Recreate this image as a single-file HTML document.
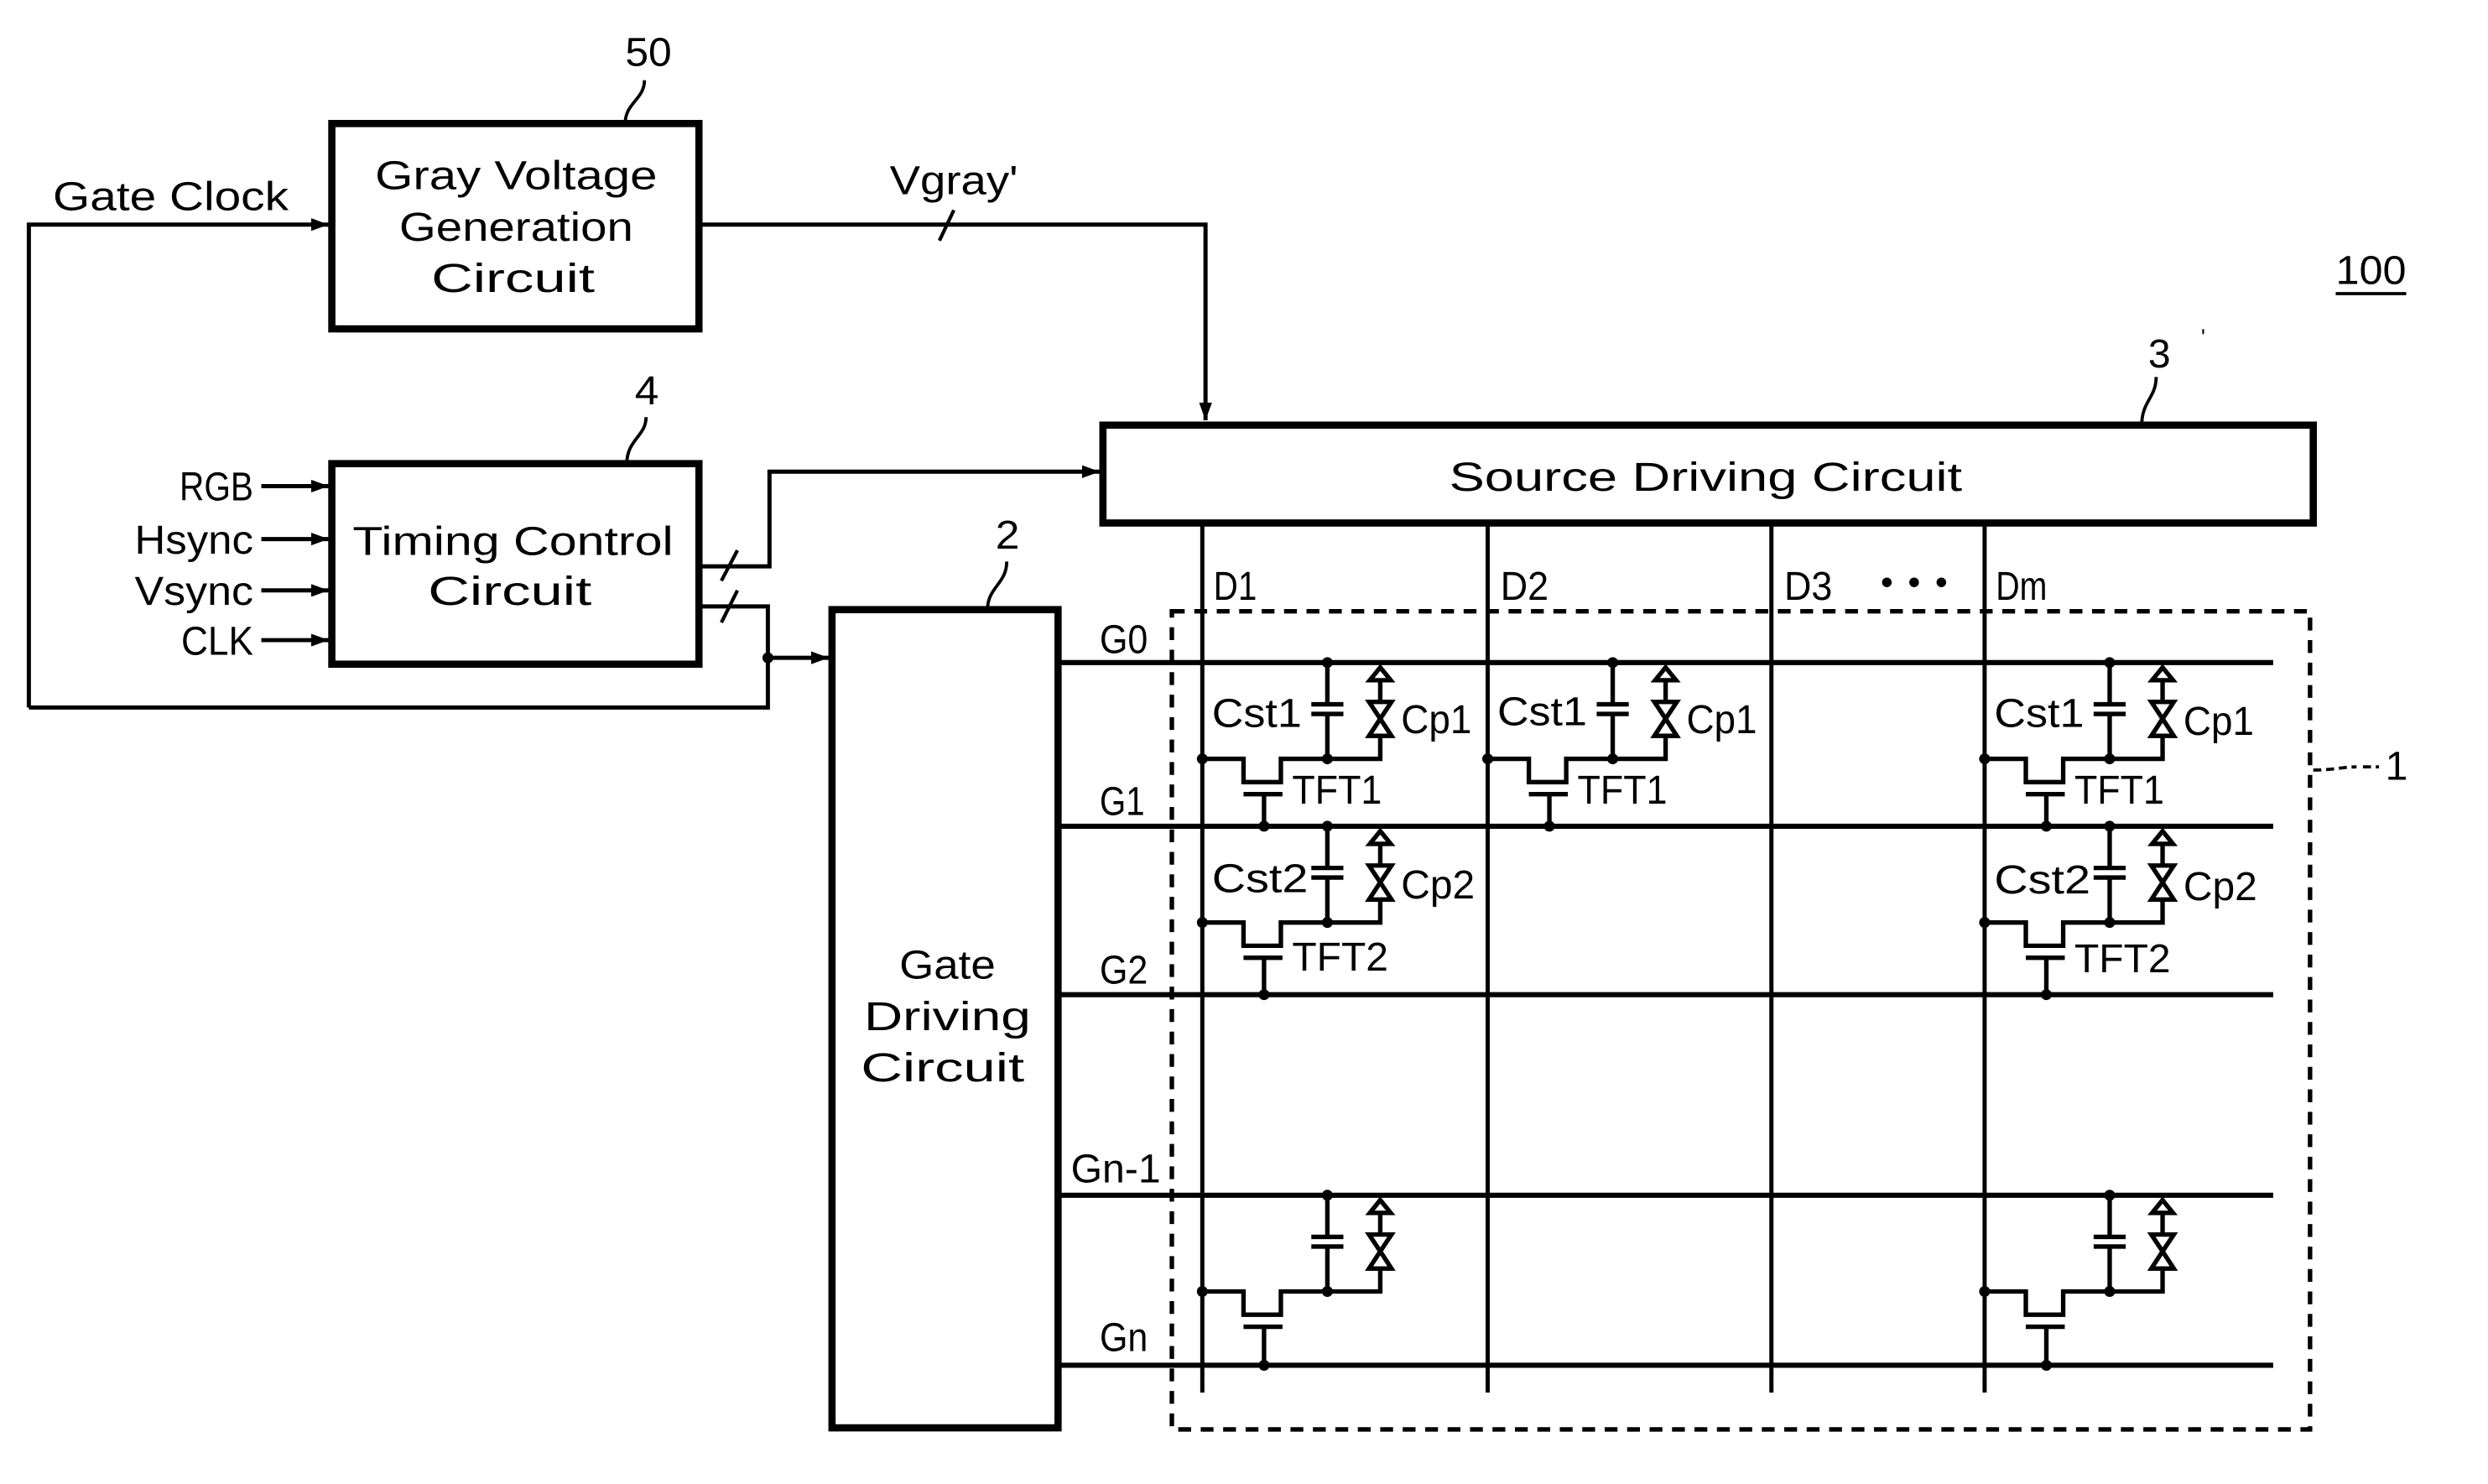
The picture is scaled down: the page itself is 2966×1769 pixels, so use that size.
<!DOCTYPE html>
<html><head><meta charset="utf-8"><style>
html,body{margin:0;padding:0;background:#fff;}
svg{display:block;}
text{font-family:"Liberation Sans",sans-serif;fill:#000;}
</style></head><body>
<svg width="2966" height="1769" viewBox="0 0 1552 925" preserveAspectRatio="none" xmlns="http://www.w3.org/2000/svg">
<defs>
<marker id="ar" markerWidth="11" markerHeight="8" refX="11" refY="4" orient="auto" markerUnits="userSpaceOnUse"><path d="M0,0 L11,4 L0,8 z" fill="#000"/></marker>
<g id="cell" stroke="#000" stroke-width="2.8" fill="none">
<path d="M78,0 V26 M68,26 H88 M68,32 H88 M78,32 V60"/>
<path d="M0,60 H25.7 V74.5 H49 V60 H111 V46"/>
<path d="M111,11 V24.5"/>
<polygon points="111,3 104.5,11 117.5,11" fill="#fff"/>
<polygon points="104,24.5 118,24.5 111,35" fill="#fff"/>
<polygon points="111,35 104,45.7 118,45.7" fill="#fff"/>
<path d="M25.7,82 H50"/>
<circle cx="78" cy="0" r="3.4" fill="#000" stroke="none"/>
<circle cx="78" cy="60" r="3.4" fill="#000" stroke="none"/>
<circle cx="0" cy="60" r="3.4" fill="#000" stroke="none"/>
</g>
</defs>

<g stroke="#000" fill="none">
<rect x="207" y="77" width="229" height="128" stroke-width="4.5"/>
<rect x="207" y="289" width="229" height="125" stroke-width="4.5"/>
<rect x="519" y="380" width="141" height="510" stroke-width="4.5"/>
<rect x="688" y="265" width="755" height="61" stroke-width="4.5"/>

<path d="M18,441 V140 H205" stroke-width="2.6" marker-end="url(#ar)"/>
<path d="M18,441 H479 V378 H436" stroke-width="2.6"/>
<path d="M479,410 H517" stroke-width="2.6" marker-end="url(#ar)"/>
<circle cx="479" cy="410" r="3.4" fill="#000" stroke="none"/>
<path d="M450,388 L460,368" stroke-width="2.2"/>
<path d="M436,353 H480 V294 H686" stroke-width="2.6" marker-end="url(#ar)"/>
<path d="M450,362 L460,343" stroke-width="2.2"/>
<path d="M436,140 H752 V262" stroke-width="2.6" marker-end="url(#ar)"/>
<path d="M586,150 L595,131" stroke-width="2.2"/>
<path d="M163,303 H205" stroke-width="2.6" marker-end="url(#ar)"/>
<path d="M163,336 H205" stroke-width="2.6" marker-end="url(#ar)"/>
<path d="M163,368 H205" stroke-width="2.6" marker-end="url(#ar)"/>
<path d="M163,399 H205" stroke-width="2.6" marker-end="url(#ar)"/>

<path d="M402,50 C402,62 390,64 390,77" stroke-width="2"/>
<path d="M403,260 C403,272 391,274 391,289" stroke-width="2"/>
<path d="M628,350 C628,364 616,366 616,380" stroke-width="2"/>
<path d="M1345,235 C1345,248 1336,250 1336,265" stroke-width="2"/>
<path d="M1443,480 C1455,480 1462,478 1470,478 M1474,478 H1484" stroke-width="2" stroke-dasharray="5,3"/>

<path d="M750,326 V868 M928,326 V868 M1105,326 V868 M1238,326 V868" stroke-width="2.6"/>
<path d="M660,413 H1418 M660,515 H1418 M660,620 H1418 M660,745 H1418 M660,851 H1418" stroke-width="3.2"/>
<rect x="731" y="381" width="710" height="510" stroke-width="2.8" stroke-dasharray="8,6"/>

<path d="M788.5,495 V515 M966.5,495 V515 M1276.5,495 V515 M788.5,597 V620 M1276.5,597 V620 M788.5,827 V851 M1276.5,827 V851" stroke-width="2.8"/>
<g fill="#000" stroke="none">
<circle cx="788.5" cy="515" r="3.4"/><circle cx="966.5" cy="515" r="3.4"/><circle cx="1276.5" cy="515" r="3.4"/>
<circle cx="788.5" cy="620" r="3.4"/><circle cx="1276.5" cy="620" r="3.4"/>
<circle cx="788.5" cy="851" r="3.4"/><circle cx="1276.5" cy="851" r="3.4"/>
</g>
<path d="M1457,183 H1501" stroke-width="2"/>
</g>

<use href="#cell" transform="translate(750,413)"/>
<use href="#cell" transform="translate(928,413)"/>
<use href="#cell" transform="translate(1238,413)"/>
<use href="#cell" transform="translate(750,515)"/>
<use href="#cell" transform="translate(1238,515)"/>
<use href="#cell" transform="translate(750,745)"/>
<use href="#cell" transform="translate(1238,745)"/>

<g font-size="25">
<text x="322" y="118" text-anchor="middle" textLength="176" lengthAdjust="spacingAndGlyphs">Gray Voltage</text>
<text x="322" y="150" text-anchor="middle" textLength="146" lengthAdjust="spacingAndGlyphs">Generation</text>
<text x="320" y="182" text-anchor="middle" textLength="102" lengthAdjust="spacingAndGlyphs">Circuit</text>
<text x="320" y="346" text-anchor="middle" textLength="200" lengthAdjust="spacingAndGlyphs">Timing Control</text>
<text x="318" y="377" text-anchor="middle" textLength="102" lengthAdjust="spacingAndGlyphs">Circuit</text>
<text x="591" y="610" text-anchor="middle" textLength="60" lengthAdjust="spacingAndGlyphs">Gate</text>
<text x="591" y="642" text-anchor="middle" textLength="104" lengthAdjust="spacingAndGlyphs">Driving</text>
<text x="588" y="674" text-anchor="middle" textLength="102" lengthAdjust="spacingAndGlyphs">Circuit</text>
<text x="1064" y="306" text-anchor="middle" textLength="320" lengthAdjust="spacingAndGlyphs">Source Driving Circuit</text>
<text x="33" y="131" textLength="147" lengthAdjust="spacingAndGlyphs">Gate Clock</text>
<text x="555" y="121" textLength="80" lengthAdjust="spacingAndGlyphs">Vgray'</text>
<text x="390" y="41" textLength="29" lengthAdjust="spacingAndGlyphs">50</text>
<text x="396" y="252" textLength="15" lengthAdjust="spacingAndGlyphs">4</text>
<text x="621" y="342" textLength="15" lengthAdjust="spacingAndGlyphs">2</text>
<text x="1340" y="229" textLength="14" lengthAdjust="spacingAndGlyphs">3</text>
<text x="1373" y="215" font-size="14">'</text>
<text x="1457" y="177" textLength="44" lengthAdjust="spacingAndGlyphs">100</text>
<text x="1488" y="486" textLength="14" lengthAdjust="spacingAndGlyphs">1</text>
<text x="158" y="312" text-anchor="end" textLength="46" lengthAdjust="spacingAndGlyphs">RGB</text>
<text x="158" y="345" text-anchor="end" textLength="74" lengthAdjust="spacingAndGlyphs">Hsync</text>
<text x="158" y="377" text-anchor="end" textLength="74" lengthAdjust="spacingAndGlyphs">Vsync</text>
<text x="158" y="408" text-anchor="end" textLength="45" lengthAdjust="spacingAndGlyphs">CLK</text>
<text x="757" y="374" textLength="27" lengthAdjust="spacingAndGlyphs">D1</text>
<text x="936" y="374" textLength="30" lengthAdjust="spacingAndGlyphs">D2</text>
<text x="1113" y="374" textLength="30" lengthAdjust="spacingAndGlyphs">D3</text>
<text x="1245" y="374" textLength="32" lengthAdjust="spacingAndGlyphs">Dm</text>
<text x="686" y="407" textLength="30" lengthAdjust="spacingAndGlyphs">G0</text>
<text x="686" y="508" textLength="28" lengthAdjust="spacingAndGlyphs">G1</text>
<text x="686" y="613" textLength="30" lengthAdjust="spacingAndGlyphs">G2</text>
<text x="668" y="737" textLength="56" lengthAdjust="spacingAndGlyphs">Gn-1</text>
<text x="686" y="842" textLength="30" lengthAdjust="spacingAndGlyphs">Gn</text>
</g>
<g fill="#000"><circle cx="1177" cy="363" r="3"/><circle cx="1194" cy="363" r="3"/><circle cx="1211" cy="363" r="3"/></g>

<g font-size="25">
<text x="756" y="453" textLength="56" lengthAdjust="spacingAndGlyphs">Cst1</text>
<text x="874" y="457" textLength="44" lengthAdjust="spacingAndGlyphs">Cp1</text>
<text x="806" y="501" textLength="56" lengthAdjust="spacingAndGlyphs">TFT1</text>
<text x="934" y="452" textLength="56" lengthAdjust="spacingAndGlyphs">Cst1</text>
<text x="1052" y="457" textLength="44" lengthAdjust="spacingAndGlyphs">Cp1</text>
<text x="984" y="501" textLength="56" lengthAdjust="spacingAndGlyphs">TFT1</text>
<text x="1244" y="453" textLength="56" lengthAdjust="spacingAndGlyphs">Cst1</text>
<text x="1362" y="458" textLength="44" lengthAdjust="spacingAndGlyphs">Cp1</text>
<text x="1294" y="501" textLength="56" lengthAdjust="spacingAndGlyphs">TFT1</text>
<text x="756" y="556" textLength="60" lengthAdjust="spacingAndGlyphs">Cst2</text>
<text x="874" y="560" textLength="46" lengthAdjust="spacingAndGlyphs">Cp2</text>
<text x="806" y="605" textLength="60" lengthAdjust="spacingAndGlyphs">TFT2</text>
<text x="1244" y="557" textLength="60" lengthAdjust="spacingAndGlyphs">Cst2</text>
<text x="1362" y="561" textLength="46" lengthAdjust="spacingAndGlyphs">Cp2</text>
<text x="1294" y="606" textLength="60" lengthAdjust="spacingAndGlyphs">TFT2</text>
</g>
</svg>
</body></html>
